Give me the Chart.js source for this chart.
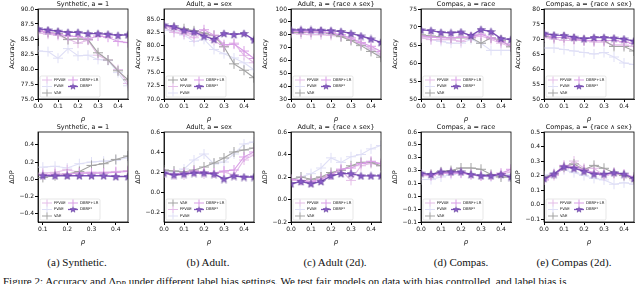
<!DOCTYPE html>
<html>
<head>
<meta charset="utf-8">
<script src="https://cdn.jsdelivr.net/npm/chart.js@4.4.0/dist/chart.umd.min.js"></script>
<style>
body{margin:0;width:640px;height:284px;overflow:hidden;background:#fff;position:relative;font-family:"Liberation Serif",serif;}
canvas{position:absolute;}
.cap{position:absolute;top:256px;font-size:11px;white-space:nowrap;transform:translateX(-50%);color:#111;}
.fig{position:absolute;top:275px;left:3px;font-size:11px;white-space:nowrap;color:#111;}
</style>
</head>
<body>
<div class="cap" style="left:77px">(a) Synthetic.</div>
<div class="cap" style="left:208px">(b) Adult.</div>
<div class="cap" style="left:335px">(c) Adult (2d).</div>
<div class="cap" style="left:461px">(d) Compas.</div>
<div class="cap" style="left:574px">(e) Compas (2d).</div>
<div class="fig">Figure 2: Accuracy and &Delta;<span style="font-size:8px;position:relative;top:2px">DP</span> under different label bias settings. We test fair models on data with bias controlled, and label bias is</div>
<script>
// x values (rho)
const rho = [0, 0.05, 0.1, 0.15, 0.2, 0.25, 0.3, 0.35, 0.4, 0.45];
const rhoSyn = [0.1, 0.15, 0.2, 0.25, 0.3, 0.35, 0.4, 0.45];

// accuracy
const synAccFFVAE = [86.0, 85.8, 85.6, 85.0, 84.3, 84.8, 82.3, 81.5, 79.9, 77.6];
const synAccFVAE = [83.0, 82.9, 81.8, 83.4, 82.2, 82.3, 81.6, 81.4, 79.4, 77.2];
const synAccVAE = [86.4, 86.1, 85.9, 84.9, 85.0, 84.9, 82.7, 81.5, 79.7, 78.2];
const synAccDBRFLR = [86.4, 86.1, 85.8, 85.5, 85.4, 85.0, 85.5, 85.3, 84.6, 84.4];
const synAccDBRF = [86.7, 86.5, 86.3, 86.1, 86.1, 85.9, 85.9, 85.8, 85.6, 85.7];

const adultAccVAE = [83.8, 83.5, 83.2, 82.8, 82.4, 81.9, 79.8, 76.6, 75.4, 74.0];
const adultAccFFVAE = [83.5, 82.5, 82.2, 81.5, 82.3, 81.0, 79.8, 80.5, 78.2, 76.8];
const adultAccFVAE = [83.0, 82.6, 82.0, 80.8, 81.2, 79.3, 78.5, 77.7, 76.8, 75.5];
const adultAccDBRFLR = [83.8, 83.2, 82.6, 82.2, 83.0, 82.0, 80.2, 80.3, 79.0, 77.6];
const adultAccDBRF = [83.9, 83.6, 82.9, 82.6, 81.8, 81.2, 82.3, 82.1, 82.3, 81.1];

const adult2AccFFVAE = [81, 80.5, 80, 80, 79.5, 78.5, 76.5, 73, 69, 65];
const adult2AccFVAE = [82, 82, 81.5, 81, 80.5, 79, 76, 72.5, 68.5, 64];
const adult2AccVAE = [82, 82, 82, 82, 81, 78.5, 75.5, 71.5, 67, 62.5];
const adult2AccDBRFLR = [82.5, 82.5, 82, 82, 81.5, 80, 77.5, 74, 71, 67];
const adult2AccDBRF = [83.7, 83.7, 83.7, 83.5, 83.2, 82.5, 81, 79, 76.7, 74];

const compasAccFFVAE = [67.0, 66.5, 66.5, 66.5, 66.0, 67.0, 67.5, 66.5, 65.5, 64.5];
const compasAccFVAE = [67.0, 66.5, 66.0, 65.5, 65.5, 66.5, 65.5, 63.5, 63.5, 63.5];
const compasAccVAE = [67.8, 67.5, 67.2, 67.0, 67.0, 67.0, 65.5, 67.0, 66.3, 64.5];
const compasAccDBRFLR = [67.5, 67.2, 67.0, 67.0, 67.2, 67.2, 68.0, 67.0, 66.0, 65.0];
const compasAccDBRF = [69.2, 69.0, 68.5, 68.4, 68.6, 67.6, 69.3, 68.7, 66.8, 66.5];

const compas2AccFFVAE = [70.5, 70.0, 69.5, 69.5, 69.5, 69.0, 69.0, 68.0, 68.0, 67.5];
const compas2AccFVAE = [67.0, 67.0, 66.5, 66.0, 65.5, 65.0, 65.5, 64.0, 62.0, 61.5];
const compas2AccVAE = [71.0, 70.5, 70.5, 70.0, 69.5, 69.5, 69.5, 67.5, 67.5, 66.0];
const compas2AccDBRFLR = [71.5, 70.5, 70.5, 70.0, 69.5, 69.5, 69.5, 69.5, 69.0, 68.5];
const compas2AccDBRF = [71.9, 71.3, 71.2, 70.6, 70.1, 70.5, 70.5, 70.3, 70.0, 69.3];

// delta DP
const synDpFFVAE = [0.07, 0.08, 0.11, 0.08, 0.08, 0.08, 0.09, 0.10];
const synDpFVAE = [0.14, 0.15, 0.13, 0.18, 0.20, 0.21, 0.22, 0.25];
const synDpVAE = [0.02, 0.04, 0.06, 0.09, 0.16, 0.18, 0.23, 0.27];
const synDpDBRFLR = [0.05, 0.06, 0.06, 0.07, 0.07, 0.07, 0.08, 0.09];
const synDpDBRF = [0.04, 0.04, 0.04, 0.04, 0.04, 0.04, 0.03, 0.03];

const adultDpVAE = [0.22, 0.21, 0.20, 0.22, 0.25, 0.29, 0.34, 0.40, 0.42, 0.44];
const adultDpFFVAE = [0.19, 0.17, 0.17, 0.20, 0.18, 0.19, 0.20, 0.17, 0.32, 0.37];
const adultDpFVAE = [0.20, 0.20, 0.23, 0.32, 0.38, 0.28, 0.30, 0.38, 0.48, 0.50];
const adultDpDBRFLR = [0.19, 0.18, 0.19, 0.21, 0.20, 0.19, 0.21, 0.22, 0.35, 0.40];
const adultDpDBRF = [0.19, 0.17, 0.18, 0.19, 0.19, 0.18, 0.13, 0.16, 0.15, 0.15];

const adult2DpFFVAE = [0.17, 0.17, 0.16, 0.20, 0.22, 0.26, 0.17, 0.30, 0.32, 0.30];
const adult2DpFVAE = [0.17, 0.20, 0.23, 0.28, 0.37, 0.33, 0.38, 0.40, 0.45, 0.48];
const adult2DpVAE = [0.18, 0.20, 0.18, 0.20, 0.24, 0.26, 0.30, 0.33, 0.33, 0.30];
const adult2DpDBRFLR = [0.18, 0.17, 0.16, 0.18, 0.22, 0.27, 0.28, 0.32, 0.34, 0.32];
const adult2DpDBRF = [0.14, 0.16, 0.14, 0.16, 0.21, 0.23, 0.23, 0.21, 0.21, 0.21];

const compasDpFFVAE = [0.21, 0.22, 0.23, 0.24, 0.24, 0.22, 0.21, 0.21, 0.22, 0.24];
const compasDpFVAE = [0.18, 0.18, 0.20, 0.22, 0.23, 0.22, 0.22, 0.20, 0.21, 0.22];
const compasDpVAE = [0.22, 0.22, 0.24, 0.25, 0.27, 0.27, 0.26, 0.22, 0.20, 0.20];
const compasDpDBRFLR = [0.22, 0.21, 0.23, 0.23, 0.23, 0.22, 0.21, 0.21, 0.23, 0.26];
const compasDpDBRF = [0.23, 0.22, 0.24, 0.24, 0.24, 0.22, 0.21, 0.21, 0.22, 0.20];

const compas2DpFFVAE = [0.17, 0.20, 0.25, 0.30, 0.25, 0.25, 0.20, 0.21, 0.20, 0.17];
const compas2DpFVAE = [0.20, 0.22, 0.24, 0.22, 0.20, 0.18, 0.17, 0.14, 0.15, 0.14];
const compas2DpVAE = [0.19, 0.21, 0.26, 0.28, 0.24, 0.27, 0.25, 0.22, 0.20, 0.18];
const compas2DpDBRFLR = [0.17, 0.21, 0.27, 0.26, 0.24, 0.22, 0.21, 0.22, 0.21, 0.19];
const compas2DpDBRF = [0.18, 0.21, 0.26, 0.25, 0.23, 0.21, 0.21, 0.22, 0.21, 0.18];

const colors = {
  'FFVAE': '#e4bde8',
  'FVAE': '#dfdff6',
  'VAE': '#a3a3a3',
  'DBRF+LR': '#d99de6',
  'DBRF*': '#7f52b8'
};

// star marker like matplotlib '*'
function starImg() {
  const c = document.createElement('canvas');
  c.width = 9; c.height = 9;
  const g = c.getContext('2d');
  g.beginPath();
  for (let i = 0; i < 10; i++) {
    const r = i % 2 ? 1.7 : 4.1;
    const a = -Math.PI / 2 + i * Math.PI / 5;
    g.lineTo(4.5 + r * Math.cos(a), 4.9 + r * Math.sin(a));
  }
  g.closePath();
  g.fillStyle = '#8a5cc8';
  g.fill();
  g.strokeStyle = '#5b3594';
  g.lineWidth = 0.6;
  g.stroke();
  return c;
}
const star = starImg();

const top1 = ['FFVAE', 'FVAE', 'VAE'];
const top2 = ['VAE', 'FFVAE', 'FVAE'];

const panels = [
  {l: 38, t: 9, title: 'Synthetic, a = 1', yl: 'Accuracy', xs: rho, xmin: 0, ymin: 75, ymax: 90, step: 2.5, dec: 1, leg: top1,
   s: {'FFVAE': synAccFFVAE, 'FVAE': synAccFVAE, 'VAE': synAccVAE, 'DBRF+LR': synAccDBRFLR, 'DBRF*': synAccDBRF}},
  {l: 164, t: 9, title: 'Adult, a = sex', yl: 'Accuracy', xs: rho, xmin: 0, ymin: 70, ymax: 86.9, step: 2.5, dec: 1, leg: top2,
   s: {'FFVAE': adultAccFFVAE, 'FVAE': adultAccFVAE, 'VAE': adultAccVAE, 'DBRF+LR': adultAccDBRFLR, 'DBRF*': adultAccDBRF}},
  {l: 291, t: 9, title: 'Adult, a = {race \u2227 sex}', yl: 'Accuracy', xs: rho, xmin: 0, ymin: 30, ymax: 100, step: 10, dec: 0, leg: top1,
   s: {'FFVAE': adult2AccFFVAE, 'FVAE': adult2AccFVAE, 'VAE': adult2AccVAE, 'DBRF+LR': adult2AccDBRFLR, 'DBRF*': adult2AccDBRF}},
  {l: 421, t: 9, title: 'Compas, a = race', yl: 'Accuracy', xs: rho, xmin: 0, ymin: 50, ymax: 75, step: 5, dec: 0, leg: top1,
   s: {'FFVAE': compasAccFFVAE, 'FVAE': compasAccFVAE, 'VAE': compasAccVAE, 'DBRF+LR': compasAccDBRFLR, 'DBRF*': compasAccDBRF}},
  {l: 544, t: 9, title: 'Compas, a = {race \u2227 sex}', yl: 'Accuracy', xs: rho, xmin: 0, ymin: 50, ymax: 80, step: 5, dec: 0, leg: top1,
   s: {'FFVAE': compas2AccFFVAE, 'FVAE': compas2AccFVAE, 'VAE': compas2AccVAE, 'DBRF+LR': compas2AccDBRFLR, 'DBRF*': compas2AccDBRF}},
  {l: 38, t: 132, title: 'Synthetic, a = 1', yl: '\u0394DP', xs: rhoSyn, xmin: 0.08, ymin: -0.5, ymax: 0.55, step: 0.2, dec: 1, leg: top1,
   s: {'FFVAE': synDpFFVAE, 'FVAE': synDpFVAE, 'VAE': synDpVAE, 'DBRF+LR': synDpDBRFLR, 'DBRF*': synDpDBRF}},
  {l: 164, t: 132, title: 'Adult, a = sex', yl: '\u0394DP', xs: rho, xmin: 0, ymin: -0.3, ymax: 0.6, step: 0.2, dec: 1, leg: top2,
   s: {'FFVAE': adultDpFFVAE, 'FVAE': adultDpFVAE, 'VAE': adultDpVAE, 'DBRF+LR': adultDpDBRFLR, 'DBRF*': adultDpDBRF}},
  {l: 291, t: 132, title: 'Adult, a = {race \u2227 sex}', yl: '\u0394DP', xs: rho, xmin: 0, ymin: -0.2, ymax: 0.6, step: 0.2, dec: 1, leg: top1,
   s: {'FFVAE': adult2DpFFVAE, 'FVAE': adult2DpFVAE, 'VAE': adult2DpVAE, 'DBRF+LR': adult2DpDBRFLR, 'DBRF*': adult2DpDBRF}},
  {l: 421, t: 132, title: 'Compas, a = race', yl: '\u0394DP', xs: rho, xmin: 0, ymin: -0.15, ymax: 0.55, step: 0.1, dec: 1, leg: top1,
   s: {'FFVAE': compasDpFFVAE, 'FVAE': compasDpFVAE, 'VAE': compasDpVAE, 'DBRF+LR': compasDpDBRFLR, 'DBRF*': compasDpDBRF}},
  {l: 544, t: 132, title: 'Compas, a = {race \u2227 sex}', yl: '\u0394DP', xs: rho, xmin: 0, ymin: -0.12, ymax: 0.5, step: 0.1, dec: 1, leg: top1,
   s: {'FFVAE': compas2DpFFVAE, 'FVAE': compas2DpFVAE, 'VAE': compas2DpVAE, 'DBRF+LR': compas2DpDBRFLR, 'DBRF*': compas2DpDBRF}}
];

Chart.defaults.font.family = 'DejaVu Sans';
Chart.defaults.font.size = 6;
Chart.defaults.color = '#111';

// box around the axes + title centred over it
const framePlugin = {
  id: 'frame',
  afterDraw(chart, args, opts) {
    const a = chart.chartArea, ctx = chart.ctx;
    ctx.save();
    ctx.strokeStyle = '#000';
    ctx.lineWidth = 0.8;
    ctx.strokeRect(a.left, a.top, a.right - a.left, a.bottom - a.top);
    ctx.fillStyle = '#111';
    ctx.font = '6.5px "DejaVu Sans"';
    ctx.textAlign = 'center';
    ctx.textBaseline = 'alphabetic';
    ctx.fillText(opts.text, (a.left + a.right) / 2, a.top - 3);
    ctx.restore();
  }
};

function drawMark(ctx, name, x, y) {
  ctx.strokeStyle = colors[name];
  ctx.lineWidth = name == 'DBRF*' ? 1.3 : 1;
  ctx.beginPath(); ctx.moveTo(x - 5, y); ctx.lineTo(x + 5, y); ctx.stroke();
  if (name == 'DBRF*') {
    ctx.drawImage(star, x - 3.5, y - 3.7, 7, 7);
  } else {
    ctx.beginPath(); ctx.moveTo(x, y - 3.5); ctx.lineTo(x, y + 3.5); ctx.stroke();
  }
}

// small two-column legend in lower left
const legendPlugin = {
  id: 'miniLegend',
  afterDatasetsDraw(chart, args, opts) {
    const a = chart.chartArea, ctx = chart.ctx;
    const bx = a.left + 2, by = a.bottom - 23, bw = 60, bh = 21;
    ctx.save();
    ctx.fillStyle = 'rgba(255,255,255,0.85)';
    ctx.strokeStyle = '#d6d6d6';
    ctx.lineWidth = 0.6;
    ctx.beginPath();
    ctx.roundRect(bx, by, bw, bh, 1.5);
    ctx.fill(); ctx.stroke();
    ctx.font = '3.8px "DejaVu Sans"';
    ctx.textBaseline = 'middle';
    const rows = [by + 4, by + 10.5, by + 17];
    opts.col1.forEach((n, i) => {
      drawMark(ctx, n, bx + 7, rows[i]);
      ctx.fillStyle = '#111';
      ctx.fillText(n, bx + 14, rows[i]);
    });
    ['DBRF+LR', 'DBRF*'].forEach((n, i) => {
      drawMark(ctx, n, bx + 33, rows[i]);
      ctx.fillStyle = '#111';
      ctx.fillText(n, bx + 40, rows[i]);
    });
    ctx.restore();
  }
};

function fmt(dec) {
  return v => {
    const s = Math.abs(v).toFixed(dec);
    return (v < -1e-9 ? '\u2212' : '') + s;
  };
}

panels.forEach(p => {
  const cv = document.createElement('canvas');
  cv.width = 134; cv.height = 125;
  cv.style.left = (p.l - 38) + 'px';
  cv.style.top = (p.t - 11) + 'px';
  document.body.appendChild(cv);

  const order = ['DBRF*', 'DBRF+LR', 'VAE', 'FFVAE', 'FVAE'];
  const datasets = order.map(n => ({
    label: n,
    data: p.s[n].map((v, i) => ({x: p.xs[i], y: v})),
    borderColor: colors[n],
    backgroundColor: colors[n],
    borderWidth: n == 'DBRF*' ? 1.4 : 1.1,
    pointStyle: n == 'DBRF*' ? star : 'cross',
    pointRadius: n == 'DBRF*' ? 3.5 : 5,
    pointBorderWidth: 1,
    pointBorderColor: colors[n],
    tension: 0
  }));

  new Chart(cv, {
    type: 'line',
    data: {datasets: datasets},
    plugins: [framePlugin, legendPlugin],
    options: {
      responsive: false,
      animation: false,
      devicePixelRatio: 1,
      layout: {padding: {left: 0, right: 6, top: 11, bottom: 0}},
      plugins: {
        legend: {display: false},
        tooltip: {enabled: false},
        title: {display: false},
        frame: {text: p.title},
        miniLegend: {col1: p.leg}
      },
      scales: {
        x: {
          type: 'linear', min: p.xmin, max: 0.45,
          ticks: {stepSize: 0.1, includeBounds: false, callback: fmt(1), maxRotation: 0, padding: 1},
          grid: {drawOnChartArea: false, tickLength: 3, color: '#000'},
          border: {color: '#000', width: 0.8},
          title: {display: true, text: '\u03c1', font: {size: 7, style: 'italic'}, padding: 0},
          afterFit: s => { s.height = 24; }
        },
        y: {
          min: p.ymin, max: p.ymax,
          ticks: {stepSize: p.step, includeBounds: false, callback: fmt(p.dec), padding: 1},
          grid: {drawOnChartArea: false, tickLength: 3, color: '#000'},
          border: {color: '#000', width: 0.8},
          title: {display: true, text: p.yl, font: {size: 6.5}, padding: {top: 8, bottom: 0}},
          afterFit: s => { s.width = 38; }
        }
      }
    }
  });
});
</script>
</body>
</html>
